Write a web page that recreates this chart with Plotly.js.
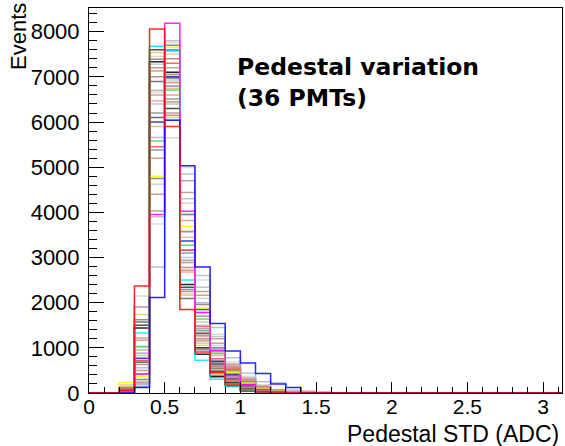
<!DOCTYPE html>
<html>
<head>
<meta charset="utf-8">
<script src="https://cdn.plot.ly/plotly-3.0.1.min.js"></script>
<style>html,body{margin:0;padding:0;background:#fff;}#chart{width:565px;height:446px;}</style>
</head>
<body>
<div id="chart"></div>
<script>
// Histogram: bins of width 0.1 from 0 to 3.1; listed values start at bin 0.2-0.3 and end at 1.5-1.6
const binWidth = 0.1;
const firstBinLow = 0.2;
const nBinsTotal = 31;
const xMax = 3.125;

const pmtNames = [
  "PMT01","PMT02","PMT03","PMT04","PMT05","PMT06","PMT07","PMT08","PMT09","PMT10","PMT11","PMT12",
  "PMT13","PMT14","PMT15","PMT16","PMT17","PMT18","PMT19","PMT20","PMT21","PMT22","PMT23","PMT24",
  "PMT25","PMT26","PMT27","PMT28","PMT29","PMT30","PMT31","PMT32","PMT33","PMT34","PMT35","PMT36"
];

const pmtColors = [
  "#d8d0b8","#708090","#c8c8c8","#b08070","#606060","#e0dcc8","#a0a0a0","#d09090",
  "#e8a0a0","#b0c4de","#8090a0","#505050","#d8b898","#a0b0f0","#888888","#c8a070",
  "#7a7a7a","#d8ccb0","#c09080","#b8b8b8","#d8d8d8","#a8b8d0","#303030","#e0d060",
  "#000000","#c89070","#2020c0","#f05050","#50d050","#ffff00","#00e8ff","#bc8f8f",
  "#c08080","#ff00ff","#0000ff","#ff0000"
];

// counts for bins 0.2-0.3, 0.3-0.4, ..., 1.5-1.6
const pmt01 = [180, 2150, 7450, 5650, 2200, 1130, 540, 245, 110, 50, 20, 0, 0, 0];
const pmt02 = [90, 1620, 7390, 6797, 2291, 960, 390, 170, 70, 30, 0, 0, 0, 0];
const pmt03 = [90, 960, 7280, 7000, 2890, 1100, 510, 270, 120, 50, 20, 0, 0, 0];
const pmt04 = [60, 630, 7000, 7400, 2780, 1280, 690, 320, 140, 60, 20, 0, 0, 0];
const pmt05 = [70, 1570, 6900, 6974, 2092, 1000, 540, 245, 100, 40, 10, 0, 0, 0];
const pmt06 = [20, 500, 6650, 7756, 3600, 1430, 760, 360, 180, 80, 30, 10, 0, 0];
const pmt07 = [40, 880, 6700, 7200, 2940, 1420, 720, 350, 170, 80, 30, 0, 0, 0];
const pmt08 = [60, 1170, 6600, 6600, 2890, 1320, 660, 330, 160, 70, 30, 0, 0, 0];
const pmt09 = [140, 1020, 6470, 6450, 2680, 1250, 600, 300, 150, 70, 30, 0, 0, 0];
const pmt10 = [60, 830, 6400, 6930, 3000, 1500, 830, 430, 200, 100, 40, 20, 0, 0];
const pmt11 = [70, 720, 6200, 7050, 3100, 1380, 620, 300, 160, 70, 20, 0, 0, 0];
const pmt12 = [50, 680, 6100, 7594, 3160, 1322, 640, 310, 150, 60, 20, 0, 0, 0];
const pmt13 = [100, 950, 5900, 6750, 3450, 1573, 840, 420, 210, 100, 40, 10, 0, 0];
const pmt14 = [30, 560, 5660, 6044, 3950, 2000, 1000, 520, 250, 120, 50, 20, 0, 0];
const pmt15 = [30, 420, 5380, 6509, 3568, 1700, 920, 490, 250, 120, 60, 20, 0, 0];
const pmt16 = [60, 500, 5200, 6450, 3820, 1780, 950, 500, 260, 130, 60, 20, 0, 0];
const pmt17 = [20, 300, 4750, 7700, 3950, 1960, 1000, 520, 260, 120, 50, 20, 0, 0];
const pmt18 = [50, 260, 4620, 7500, 4200, 2090, 1050, 560, 280, 130, 50, 20, 0, 0];
const pmt19 = [20, 200, 4400, 7050, 4440, 2165, 1100, 590, 290, 140, 60, 20, 0, 0];
const pmt20 = [0, 180, 3900, 7800, 4300, 2340, 1250, 650, 340, 170, 70, 30, 0, 0];
const pmt21 = [0, 150, 3740, 6900, 4995, 2500, 1300, 690, 370, 180, 80, 30, 0, 0];
const pmt22 = [0, 110, 2790, 6400, 4850, 2600, 1450, 780, 440, 250, 222, 60, 0, 0];
const pmt23 = [100, 1500, 7600, 6300, 2340, 1000, 480, 230, 100, 40, 10, 0, 0, 0];
const pmt24 = [150, 1740, 7540, 6100, 2165, 1057, 414, 180, 80, 30, 10, 0, 0, 0];
const pmt25 = [100, 1440, 7335, 7100, 2402, 860, 360, 150, 60, 30, 0, 0, 0, 0];
const pmt26 = [110, 1220, 7130, 6870, 2720, 1160, 560, 260, 130, 60, 20, 10, 0, 0];
const pmt27 = [40, 770, 6000, 7000, 3368, 1848, 700, 408, 200, 90, 40, 0, 0, 0];
const pmt28 = [90, 720, 5450, 7300, 3162, 1470, 760, 555, 250, 110, 50, 0, 0, 0];
const pmt29 = [40, 1030, 5580, 6708, 3273, 1640, 880, 460, 230, 110, 50, 20, 0, 0];
const pmt30 = [230, 370, 4800, 7654, 3694, 1880, 950, 460, 220, 100, 40, 20, 0, 0];
const pmt31 = [80, 1330, 7680, 7572, 2500, 725, 303, 140, 60, 20, 0, 0, 0, 0];
const pmt32 = [10, 230, 4030, 6200, 4700, 2250, 1200, 620, 310, 150, 70, 30, 40, 20];
const pmt33 = [120, 1906, 7200, 6150, 2250, 1200, 590, 280, 120, 60, 20, 0, 0, 0];
const pmt34 = [20, 420, 3950, 8185, 4027, 1780, 946, 380, 180, 80, 30, 0, 0, 0];
const pmt35 = [0, 130, 2115, 6040, 5030, 2790, 1538, 931, 665, 430, 200, 120, 0, 0];
const pmt36 = [60, 2370, 8060, 5900, 1850, 910, 450, 200, 40, 20, 0, 0, 0, 0];

const pmtCounts = [pmt01,pmt02,pmt03,pmt04,pmt05,pmt06,pmt07,pmt08,pmt09,pmt10,pmt11,pmt12,
  pmt13,pmt14,pmt15,pmt16,pmt17,pmt18,pmt19,pmt20,pmt21,pmt22,pmt23,pmt24,
  pmt25,pmt26,pmt27,pmt28,pmt29,pmt30,pmt31,pmt32,pmt33,pmt34,pmt35,pmt36];

const xTickVals = [0, 0.5, 1, 1.5, 2, 2.5, 3];
const xTickText = ["0", "0.5", "1", "1.5", "2", "2.5", "3"];
const xMinorTickVals = [0.1,0.2,0.3,0.4,0.6,0.7,0.8,0.9,1.1,1.2,1.3,1.4,1.6,1.7,1.8,1.9,2.1,2.2,2.3,2.4,2.6,2.7,2.8,2.9,3.1];
const yTickVals = [0, 1000, 2000, 3000, 4000, 5000, 6000, 7000, 8000];
const yTickText = ["0", "1000", "2000", "3000", "4000", "5000", "6000", "7000", "8000"];

const firstIdx = Math.round(firstBinLow / binWidth);
const traces = pmtCounts.map((counts, k) => {
  const xs = [], ys = [];
  for (let i = 0; i < nBinsTotal; i++) {
    xs.push(Math.round(i) / 10);
    const j = i - firstIdx;
    ys.push(j >= 0 && j < counts.length ? counts[j] : 0);
  }
  xs.push(xMax); ys.push(0);
  return {
    type: 'scatter', mode: 'lines', name: pmtNames[k], x: xs, y: ys,
    line: {shape: 'hv', color: pmtColors[k], width: 1.5},
    opacity: 0.85, hoverinfo: 'skip'
  };
});

const px2x = p => (p - 89) / 473;
const px2y = p => (393 - p) / 385;

const layout = {
  width: 565, height: 446,
  margin: {l: 89, r: 3, t: 8, b: 53, pad: 0},
  paper_bgcolor: '#ffffff', plot_bgcolor: '#ffffff',
  showlegend: false,
  font: {family: 'Liberation Sans, Arial, sans-serif', color: '#000000', size: 22},
  xaxis: {
    range: [0, xMax], tickmode: 'array', tickvals: xTickVals, ticktext: xTickText,
    ticks: 'inside', ticklen: 11, tickwidth: 1, tickcolor: '#000000',
    showline: true, linecolor: '#000000', linewidth: 1, mirror: true,
    showgrid: false, zeroline: false, tickfont: {size: 21}, ticklabelstandoff: -5,
    minor: {ticks: 'inside', tickvals: xMinorTickVals, ticklen: 6, tickcolor: '#000000', showgrid: false}
  },
  yaxis: {
    range: [0, 8525], tickmode: 'array', tickvals: yTickVals, ticktext: yTickText,
    ticks: 'inside', ticklen: 15, tickwidth: 1, tickcolor: '#000000',
    showline: true, linecolor: '#000000', linewidth: 1, mirror: true,
    showgrid: false, zeroline: false, tickfont: {size: 22}, ticklabelstandoff: 4,
    minor: {ticks: 'inside', dtick: 200, tick0: 0, ticklen: 8, tickcolor: '#000000', showgrid: false}
  },
  annotations: [
    {xref: 'paper', yref: 'paper', x: px2x(18), y: px2y(37), xanchor: 'center', yanchor: 'middle',
     text: 'Events', textangle: -90, showarrow: false, font: {size: 22, color: '#000000'}},
    {xref: 'paper', yref: 'paper', x: px2x(561), y: px2y(434), xanchor: 'right', yanchor: 'middle',
     text: 'Pedestal STD (ADC)', showarrow: false, font: {size: 23, color: '#000000'}},
    {xref: 'paper', yref: 'paper', x: px2x(235), y: px2y(83), xanchor: 'left', yanchor: 'middle', align: 'left',
     text: '<b>Pedestal variation<br>(36 PMTs)</b>', showarrow: false,
     font: {family: 'DejaVu Sans, sans-serif', size: 23.5, color: '#000000'}}
  ]
};

Plotly.newPlot('chart', traces, layout, {staticPlot: true, displayModeBar: false});
</script>
</body>
</html>
